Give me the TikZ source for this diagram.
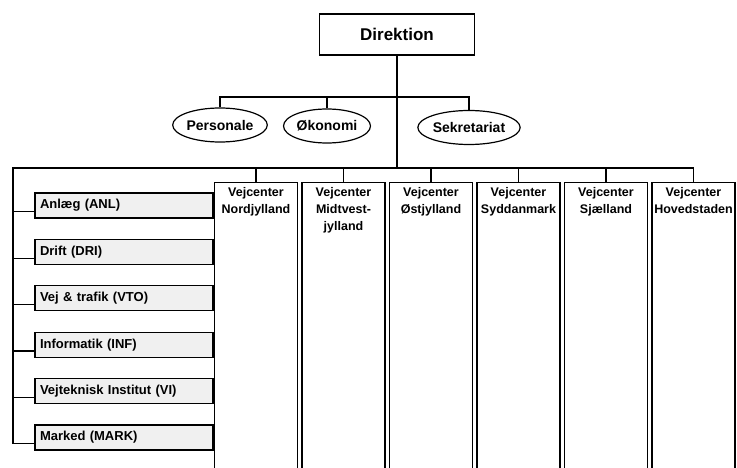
\documentclass[tikz,border=0pt]{standalone}
\usepackage{fontspec}
\setmainfont{Liberation Sans}
\usetikzlibrary{shapes.geometric}
\begin{document}
\begin{tikzpicture}[x=1pt,y=-1pt,line width=1.2pt]
  \tikzstyle{unit}=[draw,rectangle,minimum width=155pt,minimum height=41pt,font=\bfseries\fontsize{17}{20}\selectfont]
  \tikzstyle{staff}=[draw,ellipse,inner sep=0pt,minimum height=34pt,font=\bfseries\fontsize{14}{16}\selectfont]
  \tikzstyle{dept}=[draw,rectangle,fill=gray!12,minimum width=178pt,minimum height=25pt,text width=168pt,align=left,inner sep=4pt,font=\bfseries\fontsize{13}{15}\selectfont]
  \tikzstyle{column}=[draw,rectangle,minimum width=83pt,minimum height=300pt,anchor=north]
  \tikzstyle{heading}=[anchor=north,align=center,inner sep=0pt,font=\bfseries\fontsize{12.5}{17}\selectfont]
  \useasboundingbox (0,0) rectangle (737,468);
  % top of the chart
  \node[unit] (dir) at (397,34.5) {Direktion};
  \coordinate (top) at (397,97);
  \coordinate (bar) at (397,168);
  \coordinate (spine) at (13,168);
  \node[staff,minimum width=94pt] (pers) at (220,125) {Personale};
  \node[staff,minimum width=87pt] (oko) at (327,126) {Økonomi};
  \node[staff,minimum width=98pt] (sek) at (469,127.5) {Sekretariat};
  \draw (dir.south) -- (bar);
  \draw (pers.north) -- (pers.north |- top) -- (sek.north |- top) -- (sek.north);
  \draw (oko.north) -- (oko.north |- top);
  % departments on the left
  \foreach \name [count=\i] in {Anlæg (ANL), Drift (DRI), Vej \& trafik (VTO),
      Informatik (INF), Vejteknisk Institut (VI), Marked (MARK)}
    \node[dept] (d\i) at (124,{205.5+46.4*(\i-1)}) {\name};
  % road centres
  \foreach \txt [count=\i] in {{Vejcenter\\Nordjylland}, {Vejcenter\\Midtvest-\\jylland},
      {Vejcenter\\Østjylland}, {Vejcenter\\Syddanmark}, {Vejcenter\\Sjælland},
      {Vejcenter\\Hovedstaden}}
  {
    \node[column] (c\i) at ({256+87.5*(\i-1)},182) {};
    \node[heading] (h\i) at ({256+87.5*(\i-1)},187) {\txt};
  }
  \draw (spine |- d6.184) -- (spine) -- (c6.north |- bar) -- (c6.north);
  \foreach \i in {1,...,5}
    \draw (c\i.north |- bar) -- (c\i.north);
  \foreach \i in {1,...,6}
    \draw (spine |- d\i.184) -- (d\i.184);
\end{tikzpicture}
\end{document}
